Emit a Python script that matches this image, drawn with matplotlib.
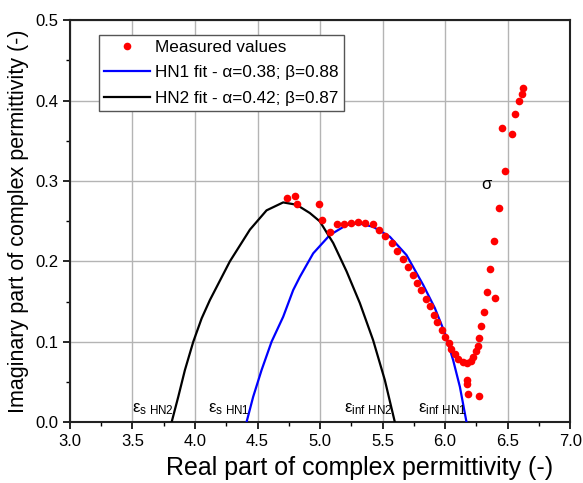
import matplotlib
matplotlib.use("Agg")
import matplotlib.pyplot as plt
from matplotlib.ticker import MultipleLocator

plt.rcParams["font.family"] = ["Liberation Sans", "DejaVu Sans"]
plt.rcParams["mathtext.fontset"] = "custom"
plt.rcParams["mathtext.rm"] = "Liberation Sans"

# measured values (real, imaginary)
meas_re = [4.739, 4.796, 4.817, 4.993, 5.013, 5.078, 5.138, 5.194, 5.248, 5.302,
           5.361, 5.420, 5.468, 5.516, 5.572, 5.616, 5.664, 5.704, 5.744, 5.776,
           5.811, 5.846, 5.878, 5.910, 5.939, 5.976, 6.003, 6.030, 6.051, 6.078,
           6.104, 6.139, 6.171, 6.203, 6.224, 6.245, 6.259, 6.272, 6.288, 6.307,
           6.331, 6.357, 6.391, 6.432, 6.397, 6.480, 6.451, 6.531, 6.557, 6.587,
           6.616, 6.624, 6.171, 6.176, 6.184, 6.272]
meas_im = [0.279, 0.281, 0.272, 0.272, 0.252, 0.237, 0.246, 0.247, 0.248, 0.249,
           0.248, 0.246, 0.239, 0.232, 0.223, 0.213, 0.203, 0.193, 0.183, 0.173,
           0.164, 0.153, 0.144, 0.133, 0.124, 0.115, 0.106, 0.098, 0.091, 0.085,
           0.079, 0.075, 0.074, 0.076, 0.081, 0.088, 0.095, 0.105, 0.120, 0.137,
           0.162, 0.191, 0.226, 0.267, 0.154, 0.313, 0.366, 0.359, 0.383, 0.399,
           0.408, 0.416, 0.053, 0.047, 0.035, 0.032]

# HN1 fit curve
hn1_re = [4.412, 4.465, 4.532, 4.612, 4.705, 4.785, 4.839, 4.945, 5.078, 5.212,
          5.305, 5.424, 5.558, 5.691, 5.824, 5.918, 5.998, 6.064, 6.118, 6.171]
hn1_im = [0.0, 0.0315, 0.0647, 0.1000, 0.1311, 0.1643, 0.1809, 0.2100, 0.2328, 0.2453,
          0.2474, 0.2431, 0.2307, 0.2079, 0.1709, 0.1419, 0.1108, 0.0772, 0.0440, 0.0]

# HN2 fit curve
hn2_re = [3.813, 3.866, 3.919, 3.986, 4.053, 4.119, 4.279, 4.439, 4.572, 4.705,
          4.812, 4.918, 4.998, 5.105, 5.212, 5.318, 5.424, 5.518, 5.598]
hn2_im = [0.0, 0.0315, 0.0647, 0.1000, 0.1291, 0.1519, 0.2001, 0.2395, 0.2635, 0.2734,
          0.2705, 0.2602, 0.2498, 0.2229, 0.1876, 0.1482, 0.1021, 0.0523, 0.0]

fig = plt.figure(figsize=(5.83, 4.83), dpi=100)
ax = fig.add_axes([0.120, 0.126, 0.858, 0.832])

ax.plot(meas_re, meas_im, "o", color="red", markersize=5.5, markeredgewidth=0,
        label="Measured values", zorder=4)
ax.plot(hn1_re, hn1_im, color="blue", linewidth=1.6,
        label="HN1 fit - α=0.38; β=0.88", zorder=3)
ax.plot(hn2_re, hn2_im, color="black", linewidth=1.6,
        label="HN2 fit - α=0.42; β=0.87", zorder=3)

ax.text(3.50, 0.012, r"$\mathregular{ε_{s\ HN2}}$", fontsize=12)
ax.text(4.10, 0.012, r"$\mathregular{ε_{s\ HN1}}$", fontsize=12)
ax.text(5.19, 0.012, r"$\mathregular{ε_{inf\ HN2}}$", fontsize=12)
ax.text(5.78, 0.012, r"$\mathregular{ε_{inf\ HN1}}$", fontsize=12)
ax.text(6.29, 0.290, "σ", fontsize=12)

ax.set_xlim(3.0, 7.0)
ax.set_ylim(0.0, 0.5)
ax.xaxis.set_major_locator(MultipleLocator(0.5))
ax.xaxis.set_minor_locator(MultipleLocator(0.25))
ax.yaxis.set_major_locator(MultipleLocator(0.1))
ax.yaxis.set_minor_locator(MultipleLocator(0.05))
ax.xaxis.set_major_formatter(plt.FormatStrFormatter("%.1f"))
ax.yaxis.set_major_formatter(plt.FormatStrFormatter("%.1f"))
ax.tick_params(which="major", direction="out", length=5, width=1.2, labelsize=12)
ax.tick_params(which="minor", direction="out", length=3, width=1.0)
ax.grid(True, which="major", color="#b4b4b4", linewidth=1.0)
ax.set_axisbelow(True)
for s in ax.spines.values():
    s.set_linewidth(1.5)
    s.set_color("#222222")

ax.set_xlabel("Real part of complex permittivity (-)", fontsize=18)
ax.xaxis.set_label_coords(0.578, -0.085)
ax.set_ylabel("Imaginary part of complex permittivity (-)", fontsize=15.5, labelpad=4)

leg = ax.legend(loc="upper left", bbox_to_anchor=(0.058, 0.964), fontsize=12.3,
                frameon=True, fancybox=False, edgecolor="#555555", framealpha=1,
                borderpad=0.3, labelspacing=0.62, handlelength=2.7,
                handletextpad=0.3, borderaxespad=0)
leg.get_frame().set_linewidth(1.0)

fig.savefig("out.png", dpi=100)
